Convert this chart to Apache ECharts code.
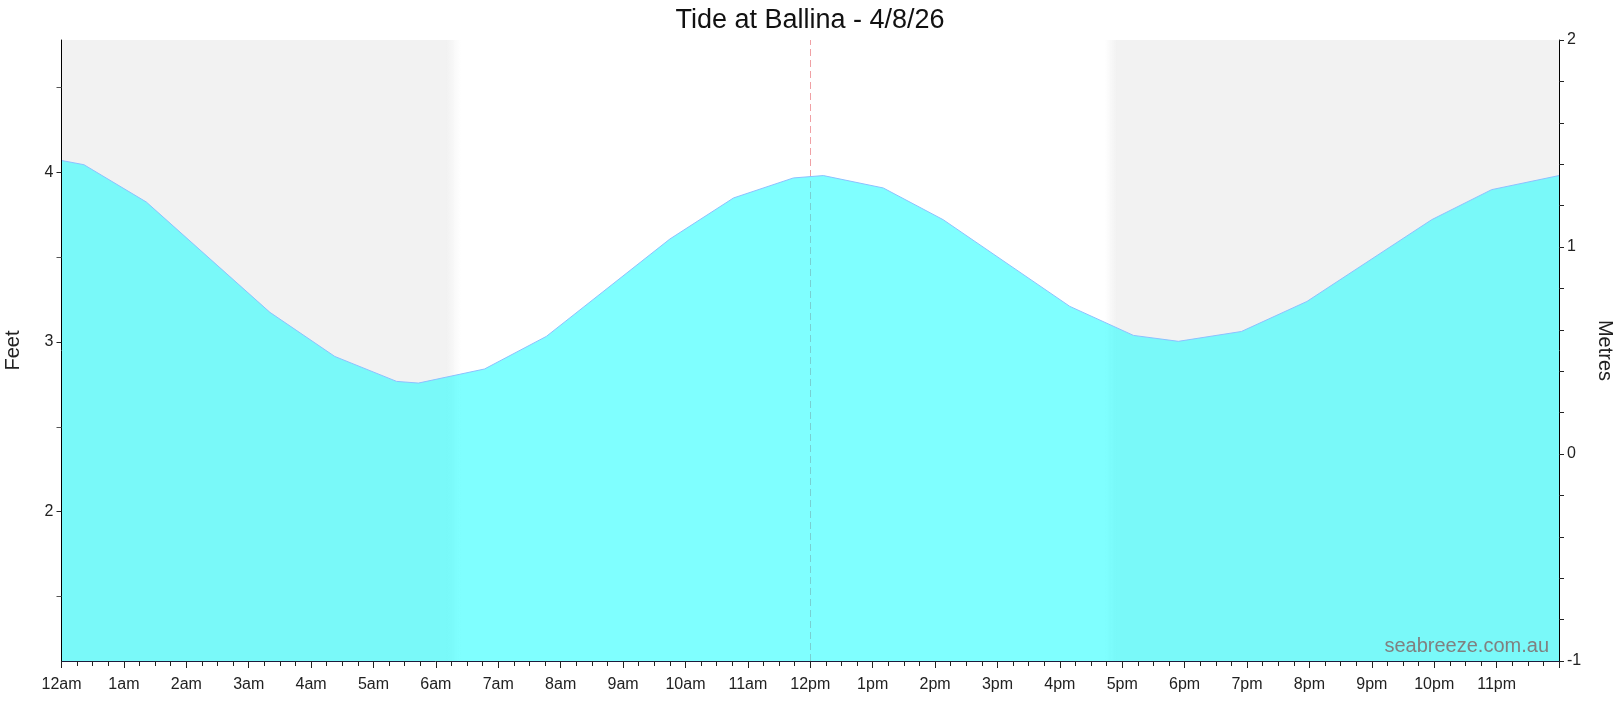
<!DOCTYPE html>
<html lang="en">
<head>
    <meta charset="UTF-8">
    <title>Tide at Ballina - 4/8/26</title>
    <script src="https://cdn.jsdelivr.net/npm/echarts@6/dist/echarts.min.js"></script>
    <style>
        html, body { margin: 0; padding: 0; background: #fff; }
        #tide-chart { width: 1620px; height: 709px; }
    </style>
</head>
<body>
    <div id="tide-chart"></div>

    <script>
        // tide heights (hour of day, feet)
        const hours = [0, 0.36, 1.36, 3.34, 4.38, 5.37, 5.72, 6.78, 7.77, 9.75, 10.77, 11.73, 12.21, 13.17, 14.13, 16.16, 17.18, 17.9, 18.91, 19.96, 21.96, 22.92, 24];
        const feet = [4.07, 4.045, 3.825, 3.175, 2.915, 2.768, 2.758, 2.841, 3.033, 3.607, 3.849, 3.967, 3.981, 3.908, 3.721, 3.21, 3.039, 3.004, 3.062, 3.239, 3.721, 3.898, 3.981];

        const hourLabels = ['12am', '1am', '2am', '3am', '4am', '5am', '6am', '7am', '8am', '9am', '10am', '11am',
                            '12pm', '1pm', '2pm', '3pm', '4pm', '5pm', '6pm', '7pm', '8pm', '9pm', '10pm', '11pm'];
        const feetTicks = [2, 3, 4];
        const feetMinorTicks = [1.5, 2.5, 3.5, 4.5];
        const feetRange = [1.12, 4.78];
        const metresRange = [-1, 2];

        // night: [start, end] in hours, plus the hour the twilight fade begins/ends
        const nightMorning = [0, 6.41];
        const dawnFadeStart = 6.17;
        const nightEvening = [16.72, 24];
        const duskFadeEnd = 16.91;
        const nowHour = 12;

        const fontFamily = '"Liberation Sans", Arial, sans-serif';
        const labelStyle = { color: '#222', fontSize: 16, fontFamily: fontFamily };
        const nightGrey = '#f2f2f2';
        const clearGrey = 'rgba(242,242,242,0)';

        const mornStop = (dawnFadeStart - nightMorning[0]) / (nightMorning[1] - nightMorning[0]);
        const eveStop = (duskFadeEnd - nightEvening[0]) / (nightEvening[1] - nightEvening[0]);

        const chart = echarts.init(document.getElementById('tide-chart'));

        const option = {
            animation: false,
            title: {
                text: 'Tide at Ballina - 4/8/26',
                left: 'center',
                top: 2,
                textStyle: { color: '#111', fontSize: 27, fontWeight: 'normal', fontFamily: fontFamily }
            },
            grid: { left: 61.5, right: 61, top: 40, bottom: 48, containLabel: false, outerBoundsMode: 'none' },
            xAxis: {
                type: 'value',
                z: 10,
                min: 0,
                max: 24,
                interval: 1,
                axisLine: { show: true, onZero: false, lineStyle: { color: '#1c1c3c', width: 1 } },
                axisTick: { show: true, length: 7, lineStyle: { color: '#222' } },
                minorTick: { show: true, splitNumber: 4, length: 5, lineStyle: { color: '#222' } },
                splitLine: { show: false },
                axisLabel: {
                    ...labelStyle,
                    margin: 16,
                    showMaxLabel: false,
                    formatter: v => hourLabels[Math.round(v)] || ''
                }
            },
            yAxis: [
                {
                    type: 'value',
                    z: 10,
                    name: 'Feet',
                    nameLocation: 'middle',
                    nameGap: 38,
                    nameTextStyle: { color: '#222', fontSize: 20, fontFamily: fontFamily },
                    min: feetRange[0],
                    max: feetRange[1],
                    position: 'left',
                    axisLine: { show: true, onZero: false, lineStyle: { color: '#000' } },
                    axisTick: { show: true, length: 5, customValues: feetTicks, lineStyle: { color: '#222' } },
                    axisLabel: { ...labelStyle, margin: 8, customValues: feetTicks },
                    splitLine: { show: false }
                },
                {
                    type: 'value',
                    z: 10,
                    name: 'Metres',
                    nameLocation: 'middle',
                    nameGap: 36,
                    nameRotate: -90,
                    nameTextStyle: { color: '#222', fontSize: 20, fontFamily: fontFamily },
                    min: metresRange[0],
                    max: metresRange[1],
                    interval: 1,
                    position: 'right',
                    axisLine: { show: true, onZero: false, lineStyle: { color: '#000' } },
                    axisTick: { show: true, length: 5, lineStyle: { color: '#222' } },
                    minorTick: { show: true, splitNumber: 5, length: 5, lineStyle: { color: '#222' } },
                    axisLabel: { ...labelStyle, margin: 8 },
                    splitLine: { show: false }
                },
                {
                    // half-foot ticks on the left
                    type: 'value',
                    z: 10,
                    min: feetRange[0],
                    max: feetRange[1],
                    position: 'left',
                    axisLine: { show: false, onZero: false },
                    axisTick: { show: true, length: 5, customValues: feetMinorTicks, lineStyle: { color: '#555' } },
                    axisLabel: { show: false },
                    splitLine: { show: false }
                }
            ],
            graphic: [{
                type: 'text',
                z: 100,
                style: {
                    x: 1549,
                    y: 656,
                    text: 'seabreeze.com.au',
                    textAlign: 'right',
                    textVerticalAlign: 'bottom',
                    fill: '#808080',
                    font: '20px ' + fontFamily
                }
            }],
            series: [
                {
                    // night shading + now line, drawn under the tide
                    type: 'line',
                    z: 1,
                    data: [],
                    silent: true,
                    markArea: {
                        silent: true,
                        z: 1,
                        data: [
                            [{
                                xAxis: nightMorning[0],
                                itemStyle: {
                                    color: {
                                        type: 'linear', x: 0, y: 0, x2: 1, y2: 0,
                                        colorStops: [
                                            { offset: 0, color: nightGrey },
                                            { offset: mornStop, color: nightGrey },
                                            { offset: 1, color: clearGrey }
                                        ]
                                    }
                                }
                            }, { xAxis: nightMorning[1] }],
                            [{
                                xAxis: nightEvening[0],
                                itemStyle: {
                                    color: {
                                        type: 'linear', x: 0, y: 0, x2: 1, y2: 0,
                                        colorStops: [
                                            { offset: 0, color: clearGrey },
                                            { offset: eveStop, color: nightGrey },
                                            { offset: 1, color: nightGrey }
                                        ]
                                    }
                                }
                            }, { xAxis: nightEvening[1] }]
                        ]
                    },
                    markLine: {
                        silent: true,
                        z: 2,
                        symbol: 'none',
                        label: { show: false },
                        lineStyle: { color: '#f0a0a4', type: [7, 4], width: 1 },
                        data: [{ xAxis: nowHour }]
                    }
                },
                {
                    name: 'Tide',
                    type: 'line',
                    z: 3,
                    data: hours.map((h, i) => [h, feet[i]]),
                    showSymbol: false,
                    silent: true,
                    lineStyle: { color: '#8cc0ff', width: 1 },
                    areaStyle: { color: 'rgba(0,255,255,0.5)', opacity: 1, origin: 'start' }
                }
            ]
        };

        chart.setOption(option);
        window.addEventListener('resize', () => chart.resize());
    </script>
</body>
</html>
